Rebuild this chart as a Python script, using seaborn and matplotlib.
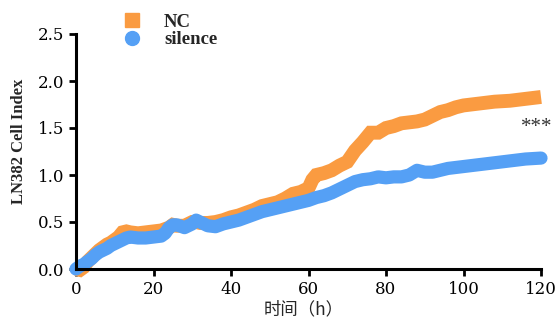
import numpy as np
import pandas as pd
import matplotlib
matplotlib.use("Agg")
import matplotlib.pyplot as plt
from matplotlib.lines import Line2D
import seaborn as sns

# ---- data ----
hours_nc = [0, 1, 2, 3, 4, 5, 6, 7, 8, 9, 10, 11, 12, 13, 14, 16, 18, 20, 22, 24, 25, 26, 28, 30, 31, 32,
            34, 36, 38, 40, 42, 44, 46, 48, 50, 52, 54, 56, 58, 60, 61, 62, 64, 66, 68, 70, 72, 74, 76,
            78, 80, 82, 84, 86, 88, 90, 92, 94, 96, 98, 100, 104, 108, 112, 116, 120]
nc_values = [0.0, -0.01, 0.02, 0.08, 0.12, 0.16, 0.20, 0.23, 0.26, 0.28, 0.31, 0.34, 0.39, 0.40, 0.39,
             0.38, 0.39, 0.40, 0.41, 0.44, 0.47, 0.46, 0.46, 0.50, 0.50, 0.49, 0.49, 0.50, 0.52, 0.55,
             0.57, 0.60, 0.63, 0.67, 0.69, 0.71, 0.75, 0.80, 0.82, 0.86, 0.95, 1.00, 1.02, 1.05, 1.10,
             1.14, 1.26, 1.35, 1.45, 1.45, 1.50, 1.52, 1.55, 1.56, 1.57, 1.59, 1.63, 1.67, 1.69, 1.72,
             1.74, 1.76, 1.78, 1.79, 1.81, 1.83]

hours_si = [0, 1, 2, 3, 4, 5, 6, 7, 8, 9, 10, 11, 12, 13, 14, 16, 18, 20, 22, 23, 24, 25, 26, 28, 30,
            31, 32, 34, 36, 38, 40, 42, 44, 46, 48, 50, 52, 54, 56, 58, 60, 62, 64, 66, 68, 70, 72, 74,
            76, 78, 80, 82, 84, 86, 88, 90, 92, 94, 96, 98, 100, 104, 108, 112, 116, 120]
si_values = [0.0, 0.03, 0.05, 0.08, 0.11, 0.15, 0.18, 0.20, 0.22, 0.25, 0.27, 0.29, 0.31, 0.33, 0.34,
             0.33, 0.33, 0.34, 0.35, 0.38, 0.44, 0.47, 0.47, 0.44, 0.48, 0.52, 0.50, 0.46, 0.45, 0.48,
             0.50, 0.52, 0.55, 0.58, 0.61, 0.63, 0.65, 0.67, 0.69, 0.71, 0.73, 0.76, 0.78, 0.81, 0.85,
             0.89, 0.93, 0.95, 0.96, 0.98, 0.97, 0.98, 0.98, 1.00, 1.05, 1.03, 1.03, 1.05, 1.07, 1.08,
             1.09, 1.11, 1.13, 1.15, 1.17, 1.18]

series_names = ["NC", "silence"]
series_colors = ["#FA9B41", "#55A0F5"]
x_ticks = [0, 20, 40, 60, 80, 100, 120]
y_ticks = [0.0, 0.5, 1.0, 1.5, 2.0, 2.5]
x_label = "时间（h）"
y_label = "LN382 Cell Index"
sig_text = "***"

df_nc = pd.DataFrame({"hour": hours_nc, "ci": nc_values})
df_si = pd.DataFrame({"hour": hours_si, "ci": si_values})

# ---- style ----
sns.set_theme(style="ticks")
plt.rcParams["font.family"] = ["Liberation Serif", "DejaVu Serif"]

fig = plt.figure(figsize=(5.56, 3.23), dpi=100)
ax = fig.add_axes([76 / 556, 1 - 269 / 323, (541 - 76) / 556, (269 - 34) / 323])

sns.lineplot(data=df_nc, x="hour", y="ci", ax=ax, color=series_colors[0], linewidth=10,
             solid_capstyle="butt", solid_joinstyle="miter", clip_on=False)
sns.lineplot(data=df_si, x="hour", y="ci", ax=ax, color=series_colors[1], linewidth=9.5,
             solid_capstyle="round", solid_joinstyle="round", clip_on=False)

ax.set_xlim(0, 120)
ax.set_ylim(0, 2.5)
ax.set_xticks(x_ticks)
ax.set_yticks(y_ticks)
ax.set_xticklabels([str(t) for t in x_ticks])
ax.set_yticklabels([f"{t:.1f}" for t in y_ticks])
ax.tick_params(axis="both", direction="out", length=5, width=2, labelsize=12, colors="black")
for lab in ax.get_xticklabels() + ax.get_yticklabels():
    lab.set_family(["DejaVu Serif"])

for side in ["top", "right"]:
    ax.spines[side].set_visible(False)
for side in ["left", "bottom"]:
    ax.spines[side].set_linewidth(2.2)
    ax.spines[side].set_color("black")

ax.set_xlabel(x_label, family=["Noto Sans CJK SC", "DejaVu Sans"], fontsize=12.5)
ax.xaxis.set_label_coords(0.49, -0.135)
ax.set_ylabel(y_label, fontsize=12, fontweight="bold")
ax.yaxis.set_label_coords(-0.106, 0.545)

ax.text(119.0, 1.50, sig_text, ha="center", va="center", fontsize=15, color="#333333", clip_on=False)

handles = [
    Line2D([], [], linestyle="none", marker="s", markersize=10, color=series_colors[0]),
    Line2D([], [], linestyle="none", marker="o", markersize=10, color=series_colors[1]),
]
leg = fig.legend(handles, series_names, loc="upper left", bbox_to_anchor=(104 / 556, 1 + 3 / 323),
                 frameon=False, handlelength=1.2, handletextpad=1.1, labelspacing=0.0,
                 prop={"family": ["Liberation Serif"], "weight": "bold", "size": 13.5})

fig.savefig("out.png", dpi=100)
